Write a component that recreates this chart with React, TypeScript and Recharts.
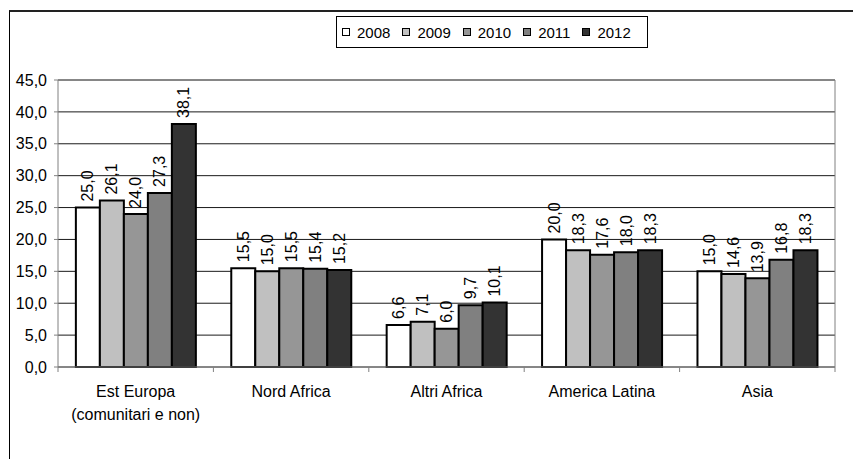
import React from "react";
import { BarChart, Bar, XAxis, YAxis, CartesianGrid, Legend, LabelList, ReferenceLine } from "recharts";

const categories = ["Est Europa\n(comunitari e non)", "Nord Africa", "Altri Africa", "America Latina", "Asia"];
const years = ["2008", "2009", "2010", "2011", "2012"];
const v2008 = [25.0, 15.5, 6.6, 20.0, 15.0];
const v2009 = [26.1, 15.0, 7.1, 18.3, 14.6];
const v2010 = [24.0, 15.5, 6.0, 17.6, 13.9];
const v2011 = [27.3, 15.4, 9.7, 18.0, 16.8];
const v2012 = [38.1, 15.2, 10.1, 18.3, 18.3];
const yTicks = [0, 5, 10, 15, 20, 25, 30, 35, 40, 45];

const colors = ["#ffffff", "#c0c0c0", "#969696", "#808080", "#333333"];
const series = [v2008, v2009, v2010, v2011, v2012];

const data = categories.map((name, i) => {
  const row: Record<string, any> = { name };
  years.forEach((y, k) => {
    row[y] = series[k][i];
  });
  return row;
});

const W = 853;
const H = 459;
const LEFT = 58;
const RIGHT = 18;
const FONT = "'Liberation Sans', Arial, sans-serif";
const band = (W - LEFT - RIGHT) / categories.length;

const fmt = (v: number) => Number(v).toFixed(1).replace(".", ",");

function BarValue(props: any) {
  const { x, y, width, value } = props;
  const cx = x + width / 2;
  const y0 = y - 6;
  return (
    <text
      x={cx}
      y={y0}
      transform={`rotate(-90, ${cx}, ${y0})`}
      textAnchor="start"
      dominantBaseline="central"
      fontSize={16}
      fontFamily={FONT}
      fill="#000"
    >
      {fmt(value)}
    </text>
  );
}

function CategoryTick(props: any) {
  const { x, y, payload, index } = props;
  const lines = String(payload.value).split("\n");
  return (
    <g>
      <line x1={x - band / 2} x2={x - band / 2} y1={y} y2={y + 5} stroke="#808080" />
      {index === categories.length - 1 && (
        <line x1={x + band / 2} x2={x + band / 2} y1={y} y2={y + 5} stroke="#808080" />
      )}
      {lines.map((l, i) => (
        <text key={i} x={x} y={y + 30 + i * 23} textAnchor="middle" fontSize={16} fontFamily={FONT} fill="#000">
          {l}
        </text>
      ))}
    </g>
  );
}

function LegendBox() {
  return (
    <div
      style={{
        border: "1px solid #000",
        background: "#fff",
        height: 30,
        width: 305,
        display: "flex",
        alignItems: "center",
        paddingLeft: 5,
        boxSizing: "content-box",
        fontFamily: FONT,
        fontSize: 15,
        color: "#000",
      }}
    >
      {years.map((y, k) => (
        <div key={y} style={{ display: "flex", alignItems: "center", marginRight: 12 }}>
          <span
            style={{
              display: "inline-block",
              width: 6,
              height: 6,
              border: "1.5px solid #000",
              background: colors[k],
              marginRight: 7,
            }}
          />
          <span>{y}</span>
        </div>
      ))}
    </div>
  );
}

export default function App() {
  return (
    <div style={{ position: "absolute", left: 0, top: 0, width: W, height: H, overflow: "hidden", background: "#fff" }}>
      <div
        style={{
          position: "absolute",
          left: 9,
          top: 10,
          width: W,
          height: H,
          borderTop: "2px solid #222",
          borderLeft: "1.5px solid #000",
        }}
      />
      <div style={{ position: "absolute", left: 0, top: 0 }}>
        <BarChart
          width={W}
          height={H}
          data={data}
          margin={{ top: 80, right: 0, bottom: 0, left: 0 }}
          barCategoryGap="11.5%"
          barGap={0}
        >
          <CartesianGrid vertical={false} stroke="#1a1a1a" />
          <XAxis
            dataKey="name"
            height={92}
            interval={0}
            tickLine={false}
            tickSize={0}
            tickMargin={0}
            axisLine={{ stroke: "#808080" }}
            tick={<CategoryTick />}
          />
          <YAxis
            width={LEFT}
            domain={[0, 45]}
            ticks={yTicks}
            interval={0}
            tickFormatter={fmt}
            tickSize={4}
            tickMargin={7}
            axisLine={{ stroke: "#808080" }}
            tickLine={{ stroke: "#808080" }}
            tick={{ fontSize: 16, fill: "#000", fontFamily: FONT }}
          />
          <YAxis
            yAxisId="r"
            orientation="right"
            width={RIGHT}
            domain={[0, 45]}
            tick={false}
            tickLine={false}
            axisLine={{ stroke: "#808080" }}
          />
          <ReferenceLine y={45} stroke="#808080" />
          <Legend
            layout="horizontal"
            verticalAlign="middle"
            align="center"
            content={<LegendBox />}
            wrapperStyle={{ position: "absolute", top: 16, left: 336, width: 311 }}
          />
          {years.map((y, k) => (
            <Bar
              key={y}
              dataKey={y}
              fill={colors[k]}
              stroke="#000"
              strokeWidth={2}
              isAnimationActive={false}
            >
              <LabelList dataKey={y} content={<BarValue />} />
            </Bar>
          ))}
        </BarChart>
      </div>
    </div>
  );
}
